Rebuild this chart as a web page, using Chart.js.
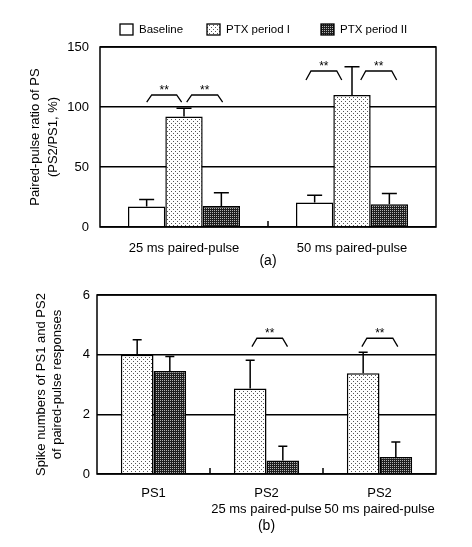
<!DOCTYPE html>
<html>
<head>
<meta charset="utf-8">
<title>Paired-pulse ratio and spike numbers</title>
<script src="https://cdn.jsdelivr.net/npm/chart.js"></script>
<style>
  body { margin: 0; background: #fff; }
  #wrap { position: relative; width: 472px; height: 547px; }
  #chartA { position: absolute; left: 0; top: 0; }
  #chartB { position: absolute; left: 0; top: 272px; }
</style>
</head>
<body>
<div id="wrap">
  <canvas id="chartA" width="472" height="272"></canvas>
  <canvas id="chartB" width="472" height="275"></canvas>
</div>
<script>
// (a) paired-pulse ratio
const catsA = ['25 ms paired-pulse', '50 ms paired-pulse'];
const baselineA = [17, 20.5];
const baselineErrA = [6, 6];
const ptx1A = [92, 110];
const ptx1ErrA = [7, 23.5];
const ptx2A = [17.5, 19];
const ptx2ErrA = [11, 9];
const ticksA = [0, 50, 100, 150];

// (b) spike numbers
const catsB = [['PS1'], ['PS2', '25 ms paired-pulse'], ['PS2', '50 ms paired-pulse']];
const ptx1B = [4.0, 2.87, 3.38];
const ptx1ErrB = [0.5, 0.94, 0.7];
const ptx2B = [3.45, 0.45, 0.57];
const ptx2ErrB = [0.49, 0.48, 0.5];
const ticksB = [0, 2, 4, 6];

// ** brackets: ends in category units, top and end values on y
const sigFromA = [-0.222, 0.016, 0.726, 1.052];
const sigToA = [-0.014, 0.230, 0.939, 1.266];
const sigTopA = [110, 110, 130, 130];
const sigEndA = [104, 104, 122.5, 122.5];
const sigFromB = [0.871, 1.844];
const sigToB = [1.186, 2.162];
const sigTopB = [4.55, 4.55];
const sigEndB = [4.27, 4.27];

const legendLabels = ['Baseline', 'PTX period I', 'PTX period II'];

const FONT = 'Liberation Sans, Arial, sans-serif';

function makePattern(ctx, size, bg, fg, dots) {
    const c = document.createElement('canvas');
    c.width = size;
    c.height = size;
    const g = c.getContext('2d');
    g.fillStyle = bg;
    g.fillRect(0, 0, size, size);
    g.fillStyle = fg;
    dots.forEach(d => g.fillRect(d[0], d[1], 1, 1));
    return ctx.createPattern(c, 'repeat');
}

// box round the plot + little ticks between the groups
const frame = {
    id: 'frame',
    afterDatasetsDraw(chart) {
        const {ctx, chartArea: a} = chart;
        const x = chart.scales.x;
        ctx.save();
        ctx.strokeStyle = '#000';
        ctx.lineWidth = 1.5;
        ctx.strokeRect(a.left, a.top, a.right - a.left, a.bottom - a.top);
        ctx.beginPath();
        for (let i = 0; i < chart.data.labels.length - 1; i++) {
            const px = (x.getPixelForValue(i) + x.getPixelForValue(i + 1)) / 2;
            ctx.moveTo(px, a.bottom);
            ctx.lineTo(px, a.bottom - 6);
        }
        ctx.stroke();
        ctx.restore();
    }
};

// error bars (upper half only)
const errorBars = {
    id: 'errorBars',
    afterDatasetsDraw(chart, args, opts) {
        const ctx = chart.ctx;
        const y = chart.scales.y;
        ctx.save();
        ctx.strokeStyle = '#000';
        ctx.lineWidth = 1.5;
        chart.data.datasets.forEach((ds, i) => {
            chart.getDatasetMeta(i).data.forEach((bar, j) => {
                const top = y.getPixelForValue(ds.data[j] + ds.errors[j]);
                ctx.beginPath();
                ctx.moveTo(bar.x, bar.y);
                ctx.lineTo(bar.x, top);
                ctx.moveTo(bar.x - opts.cap, top);
                ctx.lineTo(bar.x + opts.cap, top);
                ctx.stroke();
            });
        });
        ctx.restore();
    }
};

// significance brackets with **
const brackets = {
    id: 'brackets',
    afterDatasetsDraw(chart, args, o) {
        const ctx = chart.ctx;
        const x = chart.scales.x, y = chart.scales.y;
        const x0 = x.getPixelForValue(0);
        const step = x.getPixelForValue(1) - x0;
        ctx.save();
        ctx.strokeStyle = '#000';
        ctx.fillStyle = '#000';
        ctx.lineWidth = 1.3;
        ctx.font = '12px ' + FONT;
        ctx.textAlign = 'center';
        ctx.textBaseline = 'alphabetic';
        o.from.forEach((f, i) => {
            const x1 = x0 + f * step, x2 = x0 + o.to[i] * step;
            const yt = y.getPixelForValue(o.top[i]);
            const ye = y.getPixelForValue(o.end[i]);
            ctx.beginPath();
            ctx.moveTo(x1, ye);
            ctx.lineTo(x1 + 5, yt);
            ctx.lineTo(x2 - 5, yt);
            ctx.lineTo(x2, ye);
            ctx.stroke();
            ctx.fillText('**', (x1 + x2) / 2, yt - 1);
        });
        ctx.restore();
    }
};

// legend row above chart (a)
const topLegend = {
    id: 'topLegend',
    afterDraw(chart, args, o) {
        const ctx = chart.ctx;
        ctx.save();
        ctx.font = '11.5px ' + FONT;
        ctx.textBaseline = 'middle';
        ctx.fillStyle = '#000';
        chart.data.datasets.forEach((ds, i) => {
            const bx = o.x[i];
            ctx.fillStyle = ds.backgroundColor;
            ctx.fillRect(bx, 24, 13, 11);
            ctx.strokeStyle = '#000';
            ctx.lineWidth = 1.3;
            ctx.strokeRect(bx, 24, 13, 11);
            ctx.fillStyle = '#000';
            ctx.fillText(ds.label, bx + 19, 30);
        });
        ctx.restore();
    }
};

function barSet(label, data, errors, fill) {
    return {
        label: label,
        data: data,
        errors: errors,
        backgroundColor: fill,
        borderColor: '#000',
        borderWidth: 1.5,
        borderSkipped: 'bottom'
    };
}

function scaleOptions(opt) {
    return {
        x: {
            type: 'category',
            offset: true,
            grid: {display: false},
            border: {display: false},
            ticks: {color: '#000', font: {family: FONT, size: 13}, padding: opt.xPad, maxRotation: 0, autoSkip: false},
            title: {display: true, text: opt.xTitle, color: '#000', font: {family: FONT, size: 14}, padding: {top: 0, bottom: opt.xTitlePad}},
            afterFit: s => { s.height = opt.xHeight; }
        },
        y: {
            min: opt.ticks[0],
            max: opt.ticks[opt.ticks.length - 1],
            afterBuildTicks: s => { s.ticks = opt.ticks.map(v => ({value: v})); },
            grid: {color: '#000', lineWidth: 1.5, drawTicks: false},
            border: {display: false},
            ticks: {color: '#000', font: {family: FONT, size: 13}, padding: opt.yPad},
            title: {display: true, text: opt.yTitle, color: '#000', font: {family: FONT, size: 13, lineHeight: opt.yLine}, padding: {top: opt.yTitlePad, bottom: 0}},
            afterFit: s => { s.width = opt.yWidth; }
        }
    };
}

const ctxA = document.getElementById('chartA').getContext('2d');
const ctxB = document.getElementById('chartB').getContext('2d');

const dotsLight = [[1, 1], [3, 3]];
const dotsDark = [[0, 0]];

new Chart(ctxA, {
    type: 'bar',
    data: {
        labels: catsA,
        datasets: [
            barSet(legendLabels[0], baselineA, baselineErrA, '#ffffff'),
            barSet(legendLabels[1], ptx1A, ptx1ErrA, makePattern(ctxA, 4, '#ffffff', '#555555', dotsLight)),
            barSet(legendLabels[2], ptx2A, ptx2ErrA, makePattern(ctxA, 2, '#1e1e1e', '#b4b4b4', dotsDark))
        ]
    },
    options: {
        responsive: false,
        animation: false,
        datasets: {bar: {categoryPercentage: 0.667, barPercentage: 1}},
        layout: {padding: {left: 0, right: 36, top: 47, bottom: 0}},
        plugins: {
            legend: {display: false},
            tooltip: {enabled: false},
            errorBars: {cap: 7.5},
            brackets: {from: sigFromA, to: sigToA, top: sigTopA, end: sigEndA},
            topLegend: {x: [120, 207, 321]}
        },
        scales: scaleOptions({
            ticks: ticksA, xPad: 6, xTitle: '(a)', xTitlePad: 2, xHeight: 45,
            yPad: 11, yTitle: ['Paired-pulse ratio of PS', '(PS2/PS1, %)'], yLine: 1.4, yTitlePad: 26, yWidth: 100
        })
    },
    plugins: [frame, errorBars, brackets, topLegend]
});

new Chart(ctxB, {
    type: 'bar',
    data: {
        labels: catsB,
        datasets: [
            barSet(legendLabels[1], ptx1B, ptx1ErrB, makePattern(ctxB, 4, '#ffffff', '#555555', dotsLight)),
            barSet(legendLabels[2], ptx2B, ptx2ErrB, makePattern(ctxB, 2, '#1e1e1e', '#b4b4b4', dotsDark))
        ]
    },
    options: {
        responsive: false,
        animation: false,
        datasets: {bar: {categoryPercentage: 0.578, barPercentage: 1}},
        layout: {padding: {left: 0, right: 36, top: 23, bottom: 0}},
        plugins: {
            legend: {display: false},
            tooltip: {enabled: false},
            errorBars: {cap: 4.5},
            brackets: {from: sigFromB, to: sigToB, top: sigTopB, end: sigEndB}
        },
        scales: scaleOptions({
            ticks: ticksB, xPad: 4, xTitle: '(b)', xTitlePad: 12.5, xHeight: 73,
            yPad: 7, yTitle: ['Spike numbers of PS1 and PS2', 'of paired-pulse responses'], yLine: 1.3, yTitlePad: 32.5, yWidth: 97
        })
    },
    plugins: [frame, errorBars, brackets]
});
</script>
</body>
</html>
